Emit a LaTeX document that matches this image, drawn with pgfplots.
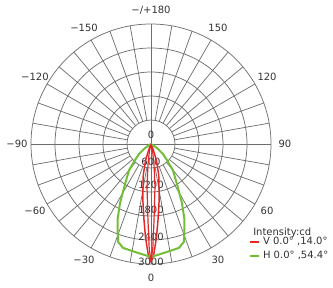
\documentclass[border=0pt]{standalone}
\usepackage{fontspec}
\setmainfont{DejaVu Sans}
\usepackage{pgfplots}
\pgfplotsset{compat=1.18}
\usepgfplotslibrary{polar}
\definecolor{gridc}{RGB}{110,110,110}
\definecolor{redc}{RGB}{225,40,40}
\definecolor{greenc}{RGB}{115,190,55}
\definecolor{txt}{RGB}{50,50,50}
\begin{document}
\begin{tikzpicture}[font=\fontsize{7.5}{9}\selectfont, text=txt]
\path[use as bounding box] (-113.25pt,-107.25pt) rectangle (136.5pt,108pt);
\begin{scope}[draw=gridc, line width=0.55pt]
\foreach \r in {18,36,54,72,90} \draw (0,0) circle[radius=\r pt];
\foreach \a in {0,10,...,350} \draw (\a:18pt) -- (\a:90pt);
\draw (-90pt,0) -- (90pt,0);
\draw (0,-90pt) -- (0,90pt);
\end{scope}
\foreach \t/\l in {0/0,30/30,60/60,90/90,120/120,150/150,180/{−/+180},-30/−30,-60/−60,-90/−90,-120/−120,-150/−150}
  \node at ({\t-90}:100.5pt) {\l};
\node at (0,6.75pt) {0};
\node at (0,-13.5pt) {600};
\node at (0,-30.75pt) {1200};
\node at (0,-49.5pt) {1800};
\node at (0,-69.75pt) {2400};
\node at (0,-88.5pt) {3000};
\node[anchor=west, inner sep=0pt] at (76.5pt,-66.75pt) {Intensity:cd};
\begin{polaraxis}[at={(0,0)}, anchor=center, scale only axis, width=180pt, height=180pt,
  hide axis, ymin=0, ymax=3000, clip=false,
  legend style={at={(0.908,0.125)}, anchor=north west, draw=none, fill=none, inner sep=0pt,
    font=\fontsize{7.5}{9}\selectfont, text=txt, row sep=-0.5pt,
    /tikz/every even column/.append style={column sep=1.5pt}},
  legend cell align=left,
  legend image code/.code={\draw[#1, line width=1.4pt] (0pt,0pt) -- (7pt,0pt);}]
\addplot[draw=redc, line width=1.1pt, line join=round] coordinates {
(-115,0) (-112,100) (-110,250) (-108,450) (-104,800) (-100.5,1100) (-98,1450) (-95.3,1900) (-93.4,2330) (-91.5,2750) (-90,2950)
(-88.5,2750) (-86.6,2330) (-84.7,1900) (-82,1450) (-79.5,1100) (-76,800) (-72,450) (-70,250) (-68,100) (-65,0)};
\addlegendentry{V 0.0° ,14.0°}
\addplot[draw=greenc, line width=1.5pt, line join=round] coordinates {
(-155,0) (-150,60) (-145,200) (-140,390) (-135,560) (-130,850) (-123,1190) (-117.7,1665) (-114,2050) (-110.5,2380) (-108.5,2585) (-105,2690) (-97,2740) (-90,2825)
(-83,2740) (-75,2690) (-71.5,2585) (-69.5,2380) (-66,2050) (-62.3,1665) (-57,1190) (-50,850) (-45,560) (-40,390) (-35,200) (-30,60) (-25,0)};
\addlegendentry{H 0.0° ,54.4°}
\addplot[draw=redc, line width=0.9pt, line join=round, forget plot] coordinates {
(-106,0) (-102,200) (-98.5,510) (-95.3,1080) (-93.5,1450) (-92.3,1900) (-91,2600) (-90,2950)
(-89,2600) (-87.7,1900) (-86.5,1450) (-84.7,1080) (-81.5,510) (-78,200) (-74,0)};
\end{polaraxis}
\end{tikzpicture}
\end{document}
